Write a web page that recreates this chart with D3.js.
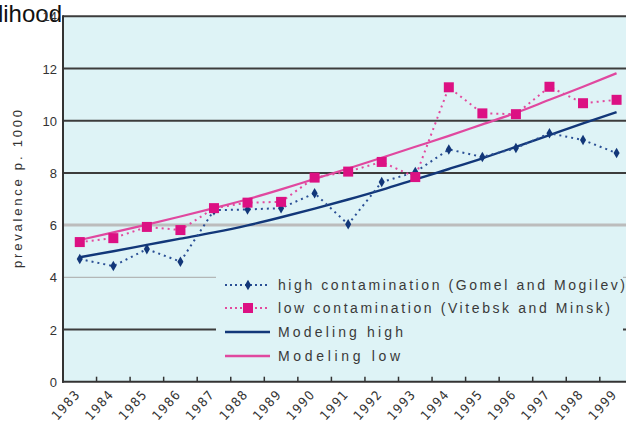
<!DOCTYPE html>
<html>
<head>
<meta charset="utf-8">
<script src="https://d3js.org/d3.v7.min.js"></script>
<style>
    body { margin: 0; background: #fff; }
    text { font-family: "Liberation Sans", Arial, Helvetica, sans-serif; fill: #333; }
    .xlab { font-family: "Liberation Sans Narrow", "DejaVu Sans Condensed", Arial, sans-serif; }
</style>
</head>
<body>
<svg id="vis"></svg>
<script>
    var width = 626, height = 424;

    // data
    var years = ["1983", "1984", "1985", "1986", "1987", "1988", "1989", "1990", "1991",
        "1992", "1993", "1994", "1995", "1996", "1997", "1998", "1999"];
    var highValues = [4.7, 4.43, 5.08, 4.6, 6.57, 6.6, 6.65, 7.22, 6.03, 7.65, 8.03,
        8.9, 8.61, 8.95, 9.52, 9.26, 8.76];
    var lowValues = [5.35, 5.5, 5.93, 5.81, 6.65, 6.86, 6.89, 7.82, 8.05, 8.42, 7.84,
        11.28, 10.28, 10.25, 11.3, 10.67, 10.8];
    var modelHigh = [4.77, 5.0, 5.24, 5.48, 5.72, 5.99, 6.3, 6.63, 6.98, 7.35, 7.75,
        8.15, 8.56, 9.0, 9.45, 9.9, 10.33];
    var modelLow = [5.43, 5.72, 6.02, 6.33, 6.65, 6.99, 7.37, 7.77, 8.17, 8.58, 9.0,
        9.42, 9.86, 10.3, 10.8, 11.3, 11.82];
    var yTicks = [0, 2, 4, 6, 8, 10, 12, 14];
    var legendLabels = ["high contamination (Gomel and Mogilev)",
        "low contamination (Vitebsk and Minsk)", "Modeling high", "Modeling low"];

    var navy = "#123779", pink = "#dc1183", pinkLine = "#e0489f", bg = "#def3f6";

    var svg = d3.select("#vis").attr("width", width).attr("height", height);

    var x = d3.scaleBand().domain(years).range([63, 63 + 17 * 33.55]);
    var y = d3.scaleLinear().domain([0, 14]).range([381.7, 16.3]);
    var cx = function (d, i) { return x(years[i]) + x.bandwidth() / 2; };

    // plot background
    svg.append("rect")
        .attr("x", 63).attr("y", y(14))
        .attr("width", width - 63).attr("height", y(0) - y(14))
        .attr("fill", bg);

    // gridlines
    var gridStyle = function (v) {
        if (v === 6) return { c: "#bcbcbc", w: 3 };
        if (v === 4) return { c: "#a8a8a8", w: 1 };
        return { c: "#3c3c3c", w: 2 };
    };
    svg.append("g").selectAll("line")
        .data(yTicks.filter(function (v) { return v > 0; }))
        .enter().append("line")
        .attr("x1", 63).attr("x2", width)
        .attr("y1", function (d) { return y(d); })
        .attr("y2", function (d) { return y(d); })
        .attr("stroke", function (d) { return gridStyle(d).c; })
        .attr("stroke-width", function (d) { return gridStyle(d).w; });

    // legend box covers the lower gridlines
    svg.append("rect")
        .attr("x", 216).attr("y", 268)
        .attr("width", 407).attr("height", 100)
        .attr("fill", bg);

    // cut-off heading in the corner
    svg.append("text")
        .attr("x", 62).attr("y", 22)
        .attr("text-anchor", "end")
        .style("font-size", "24px")
        .style("fill", "#111")
        .text("likelihood");

    // y tick labels (14 is overprinted by the heading, as in the original)
    svg.append("g").selectAll("text")
        .data(yTicks)
        .enter().append("text")
        .attr("x", 57)
        .attr("y", function (d) { return y(d) + 5; })
        .attr("text-anchor", "end")
        .style("font-size", "13px")
        .text(function (d) { return d; });

    // y axis title
    svg.append("text")
        .attr("transform", "translate(22,189) rotate(-90)")
        .attr("text-anchor", "middle")
        .style("font-size", "13px")
        .attr("textLength", 158)
        .attr("lengthAdjust", "spacing")
        .text("prevalence p. 1000");

    // axes lines
    svg.append("line")
        .attr("x1", 63).attr("x2", 63).attr("y1", y(14) - 1).attr("y2", y(0) + 1)
        .attr("stroke", "#333").attr("stroke-width", 2);
    svg.append("line")
        .attr("x1", 62).attr("x2", width).attr("y1", y(0)).attr("y2", y(0))
        .attr("stroke", "#333").attr("stroke-width", 2);

    // x ticks between categories
    svg.append("g").selectAll("line")
        .data(years.slice(1))
        .enter().append("line")
        .attr("x1", function (d) { return x(d); })
        .attr("x2", function (d) { return x(d); })
        .attr("y1", y(0)).attr("y2", y(0) - 5)
        .attr("stroke", "#333").attr("stroke-width", 1.5);

    // x labels
    svg.append("g").selectAll("text")
        .data(years)
        .enter().append("text")
        .attr("class", "xlab")
        .attr("transform", function (d) {
            return "translate(" + (x(d) + x.bandwidth() / 2 - 3) + "," + (y(0) + 11) + ") rotate(-48)";
        })
        .attr("text-anchor", "end")
        .attr("dy", "0.35em")
        .style("font-size", "13px")
        .attr("textLength", 34)
        .attr("lengthAdjust", "spacing")
        .text(function (d) { return d; });

    // model curves
    var line = d3.line()
        .x(cx)
        .y(function (d) { return y(d); })
        .curve(d3.curveMonotoneX);

    svg.append("path").datum(modelLow)
        .attr("d", line).attr("fill", "none")
        .attr("stroke", pinkLine).attr("stroke-width", 2.2);
    svg.append("path").datum(modelHigh)
        .attr("d", line).attr("fill", "none")
        .attr("stroke", navy).attr("stroke-width", 2.4);

    // observed series
    var lineLin = d3.line().x(cx).y(function (d) { return y(d); });

    svg.append("path").datum(highValues)
        .attr("d", lineLin).attr("fill", "none")
        .attr("stroke", "#2a4f95").attr("stroke-width", 2)
        .attr("stroke-dasharray", "2,4");
    svg.append("path").datum(lowValues)
        .attr("d", lineLin).attr("fill", "none")
        .attr("stroke", "#e24a9e").attr("stroke-width", 2)
        .attr("stroke-dasharray", "2,4");

    var diamond = d3.symbol().type(d3.symbolDiamond).size(32);
    svg.append("g").selectAll("path")
        .data(highValues)
        .enter().append("path")
        .attr("d", diamond)
        .attr("transform", function (d, i) { return "translate(" + cx(d, i) + "," + y(d) + ")"; })
        .attr("fill", navy);

    svg.append("g").selectAll("rect")
        .data(lowValues)
        .enter().append("rect")
        .attr("x", function (d, i) { return cx(d, i) - 5; })
        .attr("y", function (d) { return y(d) - 5; })
        .attr("width", 10).attr("height", 10)
        .attr("fill", pink);

    // legend
    var legendY = [285, 308, 332, 356];
    var legendEnd = [625, 610, 403, 400];
    var lg = svg.append("g");
    lg.selectAll("text")
        .data(legendLabels)
        .enter().append("text")
        .attr("x", 278)
        .attr("y", function (d, i) { return legendY[i] + 5; })
        .style("font-size", "14px")
        .style("fill", "#3a3a3a")
        .attr("textLength", function (d, i) { return legendEnd[i] - 278; })
        .attr("lengthAdjust", "spacing")
        .text(function (d) { return d; });

    lg.append("line").attr("x1", 225).attr("x2", 270)
        .attr("y1", legendY[0]).attr("y2", legendY[0])
        .attr("stroke", "#2a4f95").attr("stroke-width", 2).attr("stroke-dasharray", "2,3");
    lg.append("path").attr("d", diamond)
        .attr("transform", "translate(248," + legendY[0] + ")").attr("fill", navy);
    lg.append("line").attr("x1", 225).attr("x2", 270)
        .attr("y1", legendY[1]).attr("y2", legendY[1])
        .attr("stroke", "#e24a9e").attr("stroke-width", 2).attr("stroke-dasharray", "2,3");
    lg.append("rect").attr("x", 243).attr("y", legendY[1] - 5)
        .attr("width", 10).attr("height", 10).attr("fill", pink);
    lg.append("line").attr("x1", 225).attr("x2", 270)
        .attr("y1", legendY[2]).attr("y2", legendY[2])
        .attr("stroke", navy).attr("stroke-width", 2.5);
    lg.append("line").attr("x1", 225).attr("x2", 270)
        .attr("y1", legendY[3]).attr("y2", legendY[3])
        .attr("stroke", pinkLine).attr("stroke-width", 2.5);
</script>
</body>
</html>
